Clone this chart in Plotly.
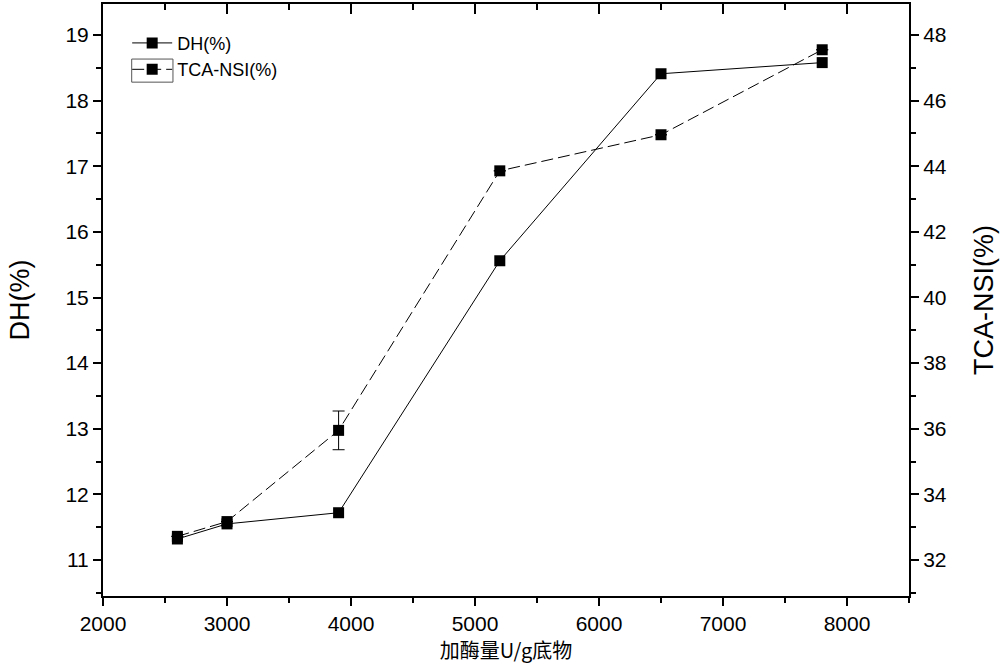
import plotly.graph_objects as go

enzyme = [2600, 3000, 3900, 5200, 6500, 7800]
dh = [11.32, 11.55, 11.72, 15.56, 18.41, 18.58]
tca_nsi = [32.72, 33.17, 35.95, 43.86, 44.96, 47.55]
tca_err = [0, 0, 0.59, 0, 0, 0]

x_title = "加酶量U/g底物"
y1_title = "DH(%)"
y2_title = "TCA-NSI(%)"

FONT = "Liberation Sans, Arial, sans-serif"

fig = go.Figure()
fig.add_trace(go.Scatter(
    x=enzyme, y=dh, name="DH(%)", mode="lines+markers",
    line=dict(color="black", width=1),
    marker=dict(symbol="square", size=11, color="black"),
    yaxis="y", xaxis="x"))
fig.add_trace(go.Scatter(
    x=enzyme, y=tca_nsi, name="TCA-NSI(%)", mode="lines+markers",
    line=dict(color="black", width=1, dash="12px,5px"),
    marker=dict(symbol="square", size=11, color="black"),
    error_y=dict(type="data", array=tca_err, color="black", thickness=1, width=6, visible=True),
    yaxis="y2", xaxis="x"))
# dummy trace to activate top mirrored axis
fig.add_trace(go.Scatter(x=[None], y=[None], xaxis="x2", yaxis="y", showlegend=False, hoverinfo="skip"))

axis_common = dict(showgrid=False, zeroline=False, showline=True, linecolor="black", linewidth=2,
                   tickcolor="black", tickwidth=1.5,
                   tickfont=dict(family=FONT, size=21, color="black"))

fig.update_layout(
    width=1000, height=665,
    margin=dict(l=103, r=91, t=4, b=69),
    paper_bgcolor="white", plot_bgcolor="white",
    showlegend=True,
    legend=dict(x=0.03, y=0.965, xanchor="left", yanchor="top", bgcolor="rgba(0,0,0,0)",
                font=dict(family=FONT, size=18, color="black"), itemwidth=40, tracegroupgap=0),
    shapes=[dict(type="rect", xref="paper", yref="paper", x0=0.0356, x1=0.0868, y0=0.868, y1=0.907,
                 line=dict(color="#555555", width=1), fillcolor="rgba(0,0,0,0)")],
    xaxis=dict(range=[2000, 8500], dtick=1000, tick0=2000, ticks="outside", ticklen=8,
               minor=dict(dtick=500, ticks="outside", ticklen=5, tickcolor="black", tickwidth=1.5),
               title=dict(text=x_title, font=dict(family="Noto Sans CJK SC", size=20, color="black"), standoff=4),
               **axis_common),
    xaxis2=dict(range=[2000, 8500], dtick=1000, tick0=2000, overlaying="x", side="top", anchor="y",
                ticks="inside", ticklen=10, showticklabels=False,
                minor=dict(dtick=500, ticks="inside", ticklen=6, tickcolor="black", tickwidth=1.5),
                **axis_common),
    yaxis=dict(range=[10.451, 19.473], dtick=1, tick0=11, ticks="outside", ticklen=8,
               minor=dict(dtick=0.5, ticks="outside", ticklen=5, tickcolor="black", tickwidth=1.5),
               title=dict(text=y1_title, font=dict(family=FONT, size=27, color="black"), standoff=28),
               **axis_common),
    yaxis2=dict(range=[30.902, 48.945], dtick=2, tick0=32, overlaying="y", side="right", anchor="x",
                ticks="outside", ticklen=8,
                minor=dict(dtick=1, ticks="outside", ticklen=5, tickcolor="black", tickwidth=1.5),
                title=dict(text=y2_title, font=dict(family=FONT, size=27, color="black"), standoff=28),
                **axis_common),
)

fig.write_html("out.html")
